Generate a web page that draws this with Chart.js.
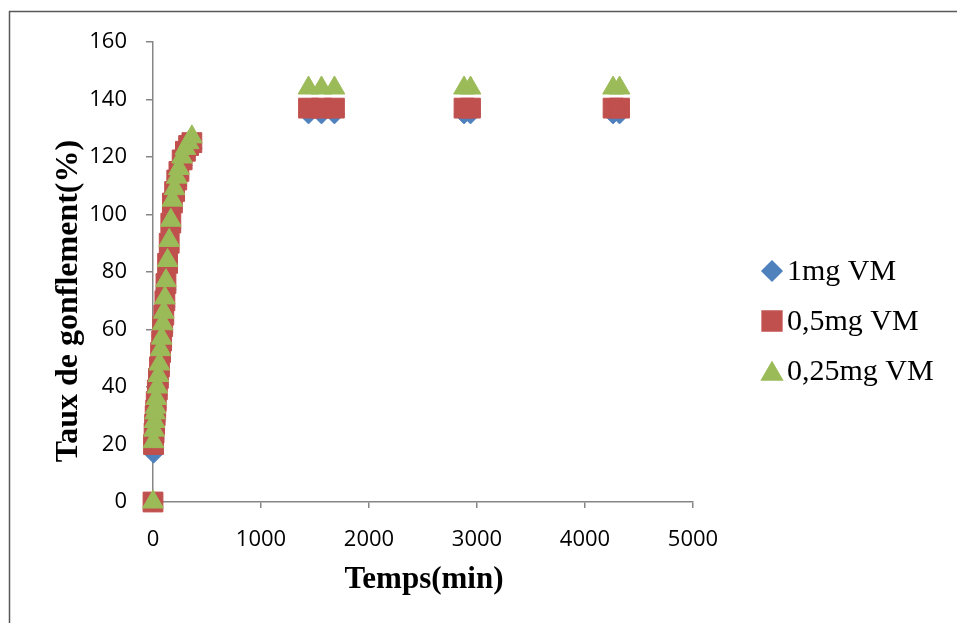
<!DOCTYPE html>
<html>
<head>
<meta charset="utf-8">
<script src="https://cdn.jsdelivr.net/npm/chart.js@4"></script>
<style>
  html, body { margin: 0; padding: 0; background: #fff; }
  #wrap { width: 957px; height: 623px; }
</style>
</head>
<body>
<div id="wrap"><canvas id="swellChart" width="957" height="623"></canvas></div>
<script>
// --- data ---
const times = [0, 5, 10, 15, 20, 25, 30, 40, 50, 60, 70, 80, 90, 100, 110, 120, 135, 150, 165, 180,
  200, 220, 240, 270, 300, 330, 360, 1440, 1560, 1680, 2880, 2940, 4260, 4320];
const vm1 = [0, 17, 22, 25, 28, 30, 33, 37, 41, 45, 50, 54, 59, 63, 68, 74, 81, 88, 95, 102,
  106, 110, 113, 117, 120, 122, 123, 135, 135, 135, 135, 135, 135, 135];
const vm05 = [0, 20, 24, 27, 30, 32, 35, 39, 43, 47, 52, 56, 61, 65, 70, 76, 83, 90, 97, 104,
  108, 112, 115, 119, 122, 124, 125, 137, 137, 137, 137, 137, 137, 137];
const vm025 = [0, 21, 25, 28, 31, 33, 36, 40, 44, 48, 53, 57, 62, 66, 71, 77, 84, 91, 98, 105,
  109, 113, 116, 120, 123, 125, 127, 144, 144, 144, 144, 144, 144, 144];
const seriesNames = ['1mg VM', '0,5mg VM', '0,25mg VM'];
const xTicks = [0, 1000, 2000, 3000, 4000, 5000];
const yTicks = [0, 20, 40, 60, 80, 100, 120, 140, 160];
const xTitle = 'Temps(min)';
const yTitle = 'Taux de gonflement(%)';

const toPts = (ys) => ys.map((y, i) => ({ x: times[i], y }));

const AXIS = '#868686';

// frame, axis titles and legend
const deco = {
  id: 'deco',
  afterDraw(chart) {
    const ctx = chart.ctx;
    ctx.save();
    ctx.strokeStyle = '#595959';
    ctx.lineWidth = 1.5;
    ctx.strokeRect(9.5, 11.5, 1200, 900);

    ctx.fillStyle = '#000';
    ctx.font = 'bold 31px "Liberation Serif"';
    ctx.textAlign = 'center';
    ctx.textBaseline = 'alphabetic';
    ctx.fillText(xTitle, 424, 588);
    ctx.save();
    ctx.font = 'bold 32px "Liberation Serif"';
    ctx.translate(77, 301);
    ctx.rotate(-Math.PI / 2);
    ctx.fillText(yTitle, 0, 0);
    ctx.restore();

    // legend
    const rows = [271, 321, 371];
    ctx.font = '30px "Liberation Serif"';
    ctx.textAlign = 'left';
    chart.data.datasets.forEach((ds, i) => {
      ctx.fillStyle = ds.backgroundColor;
      ctx.strokeStyle = ds.borderColor;
      const yOff = ds.pointStyle === 'triangle' ? ds.pointRadius * 0.25 : 0;
      Chart.helpers.drawPoint(ctx, {
        pointStyle: ds.pointStyle, radius: ds.pointRadius, rotation: 0, borderWidth: 1
      }, 772, rows[i] + yOff);
      ctx.fillStyle = '#000';
      ctx.fillText(ds.label, 787, rows[i] + 9);
    });
    ctx.restore();
  }
};

new Chart(document.getElementById('swellChart'), {
  type: 'scatter',
  data: {
    datasets: [
      { label: seriesNames[0], data: toPts(vm1), pointStyle: 'rectRot', pointRadius: 10,
        backgroundColor: '#4F81BD', borderColor: '#4F81BD', borderWidth: 1, order: 2, clip: false },
      { label: seriesNames[1], data: toPts(vm05), pointStyle: 'rect', pointRadius: 14,
        backgroundColor: '#C0504D', borderColor: '#C0504D', borderWidth: 1, order: 1, clip: false },
      { label: seriesNames[2], data: toPts(vm025), pointStyle: 'triangle', pointRadius: 12,
        backgroundColor: '#9BBB59', borderColor: '#9BBB59', borderWidth: 1, order: 0, clip: false }
    ]
  },
  options: {
    responsive: false,
    animation: false,
    layout: { padding: { left: 0, right: 264, top: 42, bottom: 0 } },
    plugins: { legend: { display: false }, tooltip: { enabled: false } },
    scales: {
      x: {
        type: 'linear', min: xTicks[0], max: xTicks[xTicks.length - 1],
        afterFit: (s) => { s.height = 121; },
        afterBuildTicks: (s) => { s.ticks = xTicks.map(v => ({ value: v })); },
        grid: { drawOnChartArea: false, drawTicks: true, tickLength: 6, color: AXIS, lineWidth: 1.5 },
        border: { color: AXIS, width: 1.5 },
        ticks: { color: '#000', padding: 19, maxRotation: 0, callback: (v) => String(v),
          font: { family: 'Open Sans', size: 22 } }
      },
      y: {
        type: 'linear', min: yTicks[0], max: yTicks[yTicks.length - 1],
        afterFit: (s) => { s.width = 153; },
        afterBuildTicks: (s) => { s.ticks = yTicks.map(v => ({ value: v })); },
        grid: { drawOnChartArea: false, drawTicks: true, tickLength: 7, color: AXIS, lineWidth: 1.5 },
        border: { color: AXIS, width: 1.5 },
        ticks: { color: '#000', padding: 19, callback: (v) => String(v),
          font: { family: 'Open Sans', size: 22 } }
      }
    }
  },
  plugins: [deco]
});
</script>
</body>
</html>
